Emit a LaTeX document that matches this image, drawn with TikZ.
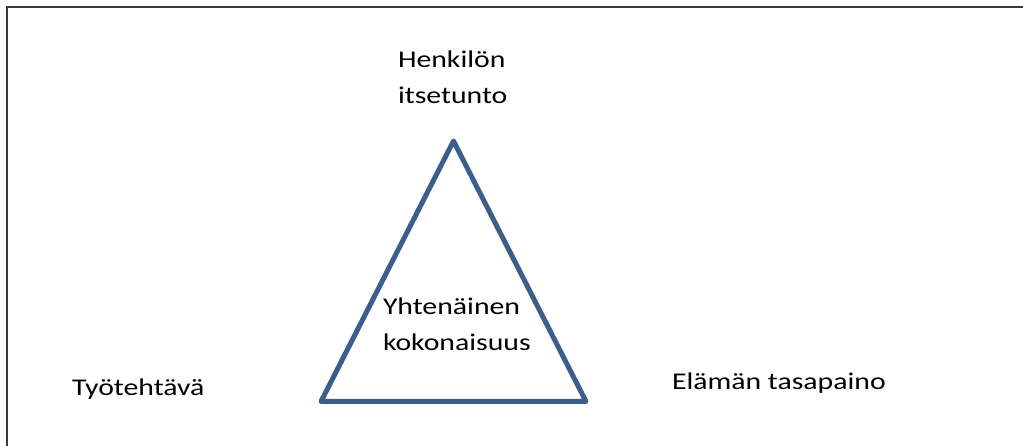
\documentclass[tikz,border=0pt]{standalone}
\usepackage{fontspec}
\setmainfont{Carlito}[FakeStretch=1.24]
\definecolor{triblue}{HTML}{3B5E8C}
\definecolor{frame}{HTML}{3A3A3A}
\begin{document}
\begin{tikzpicture}[x=1pt,y=1pt,
  lbl/.style={inner sep=0pt, outer sep=0pt, align=left, anchor=base west,
    font=\fontsize{24}{36.5}\selectfont, text=black}]
\useasboundingbox (0,0) rectangle (1023,446);
% frame (only top and left edges visible)
\draw[frame, line width=1.5pt] (7,0) -- (7,439) -- (1023,439);
% triangle
\coordinate (A) at (453.5,305);
\coordinate (B) at (321,44.5);
\coordinate (C) at (586,44.5);
\draw[triblue, line width=5pt, line join=round] (A) -- (B) -- (C) -- cycle;
% labels (base anchor = baseline of last line)
\node[lbl] (top) at (398,342) {Henkilön\\itsetunto};
\node[lbl] (mid) at (383,95) {Yhtenäinen\\kokonaisuus};
\node[lbl] (left) at (72,50) {Työtehtävä};
\node[lbl] (right) at (672,56) {Elämän tasapaino};
\end{tikzpicture}
\end{document}
